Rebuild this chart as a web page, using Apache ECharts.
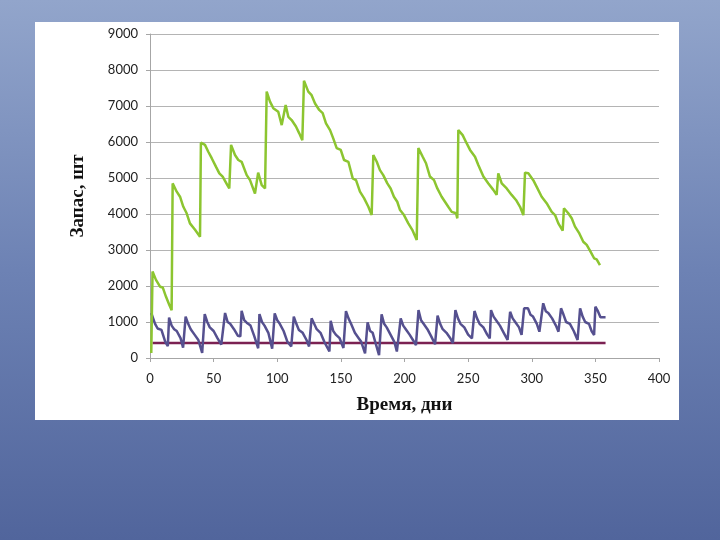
<!DOCTYPE html>
<html>
<head>
<meta charset="utf-8">
<script src="https://cdn.jsdelivr.net/npm/echarts@6/dist/echarts.min.js"></script>
<style>
  html, body { margin: 0; padding: 0; }
  #main { width: 720px; height: 540px; }
</style>
</head>
<body>
<div id="main"></div>
<script>
// ось X: дни, ось Y: запас, шт
var xTicks = { min: 0, max: 400, step: 50 };
var yTicks = { min: 0, max: 9000, step: 1000 };

// зеленая линия - общий запас
var greenPts = [
  [1, 140], [2, 2400], [4.7, 2170], [7.9, 1980], [10, 1960], [12.6, 1700], [15.2, 1470], [17, 1330],
  [17.8, 4850], [21, 4620], [23.6, 4480], [26.2, 4200], [28.8, 4020], [31.4, 3740], [35.4, 3560], [39.3, 3370],
  [40, 5980], [43.2, 5920], [45.8, 5730], [48.5, 5550], [51.9, 5310], [54.5, 5130], [57.1, 5040], [60.8, 4800], [62.3, 4710],
  [63.7, 5920], [66.8, 5640], [69.4, 5500], [72, 5450], [76, 5080], [78.6, 4940], [82.5, 4570],
  [85, 5150], [87.8, 4800], [90.4, 4710],
  [91.7, 7400], [94.3, 7120], [96.9, 6940], [100.8, 6840], [103.5, 6470], [104.8, 6430],
  [106.6, 7030], [108.7, 6700], [111.3, 6610], [114.7, 6430], [117.3, 6240], [119.7, 6050],
  [121, 7700], [124.4, 7400], [127, 7300], [129.7, 7070], [133, 6890], [135.7, 6800], [138.3, 6520], [141.5, 6330],
  [144, 6100], [146.7, 5830], [149.9, 5780], [152.5, 5500], [155.9, 5450], [159.3, 4990], [161.9, 4940],
  [165, 4620], [168.2, 4440], [171.6, 4200], [174.2, 3970],
  [175.5, 5640], [178.2, 5450], [180.7, 5220], [183.3, 5080], [186.5, 4850], [189.1, 4710], [191.7, 4480],
  [194.3, 4340], [196.5, 4110], [199.6, 3970], [203, 3740], [206.1, 3560], [209.6, 3280],
  [210.9, 5830], [214.3, 5590], [216.9, 5410], [220, 5040], [223.2, 4940], [225.8, 4710], [229.2, 4480],
  [231.8, 4340], [234.4, 4200], [237.1, 4060], [240.5, 4020], [241.5, 3880],
  [242.3, 6330], [245.7, 6190], [248.9, 5960], [251.5, 5780], [255.4, 5590], [258, 5360], [262, 5040],
  [265.9, 4850], [269.8, 4670], [272.4, 4530],
  [273.7, 5130], [276.4, 4850], [280.3, 4710], [284.2, 4530], [287.6, 4390], [290.8, 4200], [293.4, 3970],
  [294.7, 5150], [297.3, 5130], [301.2, 4940], [303.8, 4760], [307.8, 4480], [311.7, 4300], [315.7, 4060],
  [318.3, 3970], [320.9, 3740], [324.3, 3540],
  [325.3, 4160], [328.7, 4020], [331.4, 3880], [334, 3650], [337.4, 3460], [340.5, 3230], [343.2, 3140],
  [346.3, 2950], [349, 2770], [351, 2740], [353.6, 2580]
];

// фиолетовая линия - текущий запас
var purplePts = [
  [1, 1250], [2, 1150], [4, 950], [6, 820], [9, 780], [12, 450], [14, 330],
  [15, 1120], [17, 900], [19, 800], [21, 750], [24, 550], [26, 290],
  [28, 1150], [30, 950], [32, 800], [35, 650], [38, 500], [41, 140],
  [43, 1220], [45, 1000], [47, 850], [50, 750], [53, 550], [56, 370], [57, 370],
  [59, 1250], [61, 1000], [63, 950], [66, 800], [69, 620], [71, 600],
  [72, 1310], [74, 1050], [76, 980], [79, 900], [82, 600], [85, 270],
  [86, 1220], [88, 1000], [90, 900], [93, 700], [96, 260],
  [98, 1240], [100, 1050], [102, 950], [105, 750], [108, 450], [111, 320],
  [113, 1150], [115, 950], [117, 780], [120, 700], [123, 500], [125, 320],
  [127, 1100], [129, 950], [131, 800], [134, 700], [137, 450], [141, 180],
  [142, 1030], [144, 750], [146, 650], [149, 550], [152, 280],
  [154, 1300], [156, 1100], [158, 950], [161, 700], [164, 550], [166, 450], [169, 130],
  [171, 990], [173, 750], [175, 700], [177, 450], [180, 80],
  [182, 1210], [184, 950], [186, 850], [189, 650], [192, 450], [194, 180],
  [197, 1100], [199, 900], [201, 800], [204, 650], [207, 480], [209, 360],
  [211, 1330], [213, 1050], [215, 950], [218, 800], [221, 600], [224, 380],
  [226, 1175], [228, 950], [230, 800], [233, 700], [236, 550], [238, 410],
  [240, 1330], [242, 1100], [244, 950], [247, 850], [250, 650], [253, 545],
  [255, 1305], [257, 1100], [259, 950], [262, 850], [265, 650], [267, 545],
  [268, 1330], [270, 1150], [272, 1050], [275, 900], [278, 700], [281, 500],
  [283, 1285], [285, 1100], [287, 1000], [290, 850], [292, 640],
  [294, 1380], [297, 1380], [299, 1200], [301, 1150], [304, 950], [306, 730],
  [309, 1520], [311, 1300], [313, 1250], [316, 1100], [319, 900], [321, 730],
  [323, 1380], [325, 1200], [327, 1000], [330, 950], [333, 750], [336, 500],
  [338, 1380], [340, 1150], [342, 1000], [345, 950], [347, 750], [349, 640],
  [350, 1425], [352, 1300], [354, 1130], [358, 1130]
];

// бордовая линия - страховой запас
var safetyPts = [[2, 420], [358, 420]];

var chart = echarts.init(document.getElementById('main'));

chart.setOption({
  backgroundColor: new echarts.graphic.LinearGradient(0, 0, 0, 1, [
    { offset: 0, color: '#92a5cb' },
    { offset: 0.5, color: '#6d82b4' },
    { offset: 1, color: '#51659c' }
  ]),
  animation: false,
  graphic: [{
    type: 'rect',
    z: -10,
    shape: { x: 35, y: 22, width: 644, height: 398 },
    style: { fill: '#ffffff' }
  }],
  grid: {
    left: 150,
    right: 61,
    top: 34,
    bottom: 182
  },
  xAxis: {
    type: 'value',
    min: xTicks.min,
    max: xTicks.max,
    interval: xTicks.step,
    name: 'Время, дни',
    nameLocation: 'middle',
    nameGap: 38,
    nameTextStyle: { fontFamily: 'Liberation Serif', fontWeight: 'bold', fontSize: 19, color: '#111' },
    axisLine: { lineStyle: { color: '#a6a6a6' } },
    axisTick: { show: true, length: 4, lineStyle: { color: '#a6a6a6' } },
    axisLabel: { margin: 14, fontFamily: 'Lato', fontSize: 13, color: '#222', formatter: function (v) { return String(v); } },
    splitLine: { show: false }
  },
  yAxis: {
    type: 'value',
    min: yTicks.min,
    max: yTicks.max,
    interval: yTicks.step,
    name: 'Запас, шт',
    nameLocation: 'middle',
    nameGap: 62,
    nameTextStyle: { fontFamily: 'Liberation Serif', fontWeight: 'bold', fontSize: 19, color: '#111' },
    axisLine: { show: true, lineStyle: { color: '#a6a6a6' } },
    axisTick: { show: true, length: 4, lineStyle: { color: '#a6a6a6' } },
    axisLabel: { margin: 12, fontFamily: 'Lato', fontSize: 13, color: '#222', formatter: function (v) { return String(v); } },
    splitLine: { lineStyle: { color: '#b4b4b4', width: 1 } }
  },
  series: [{
    type: 'line',
    data: safetyPts,
    showSymbol: false,
    lineStyle: { color: '#7b2152', width: 2.5 },
    z: 2
  }, {
    type: 'line',
    data: purplePts,
    showSymbol: false,
    lineStyle: { color: '#55508f', width: 2.5 },
    z: 3
  }, {
    type: 'line',
    data: greenPts,
    showSymbol: false,
    lineStyle: { color: '#8cc530', width: 2.5 },
    z: 4
  }]
});
</script>
</body>
</html>
